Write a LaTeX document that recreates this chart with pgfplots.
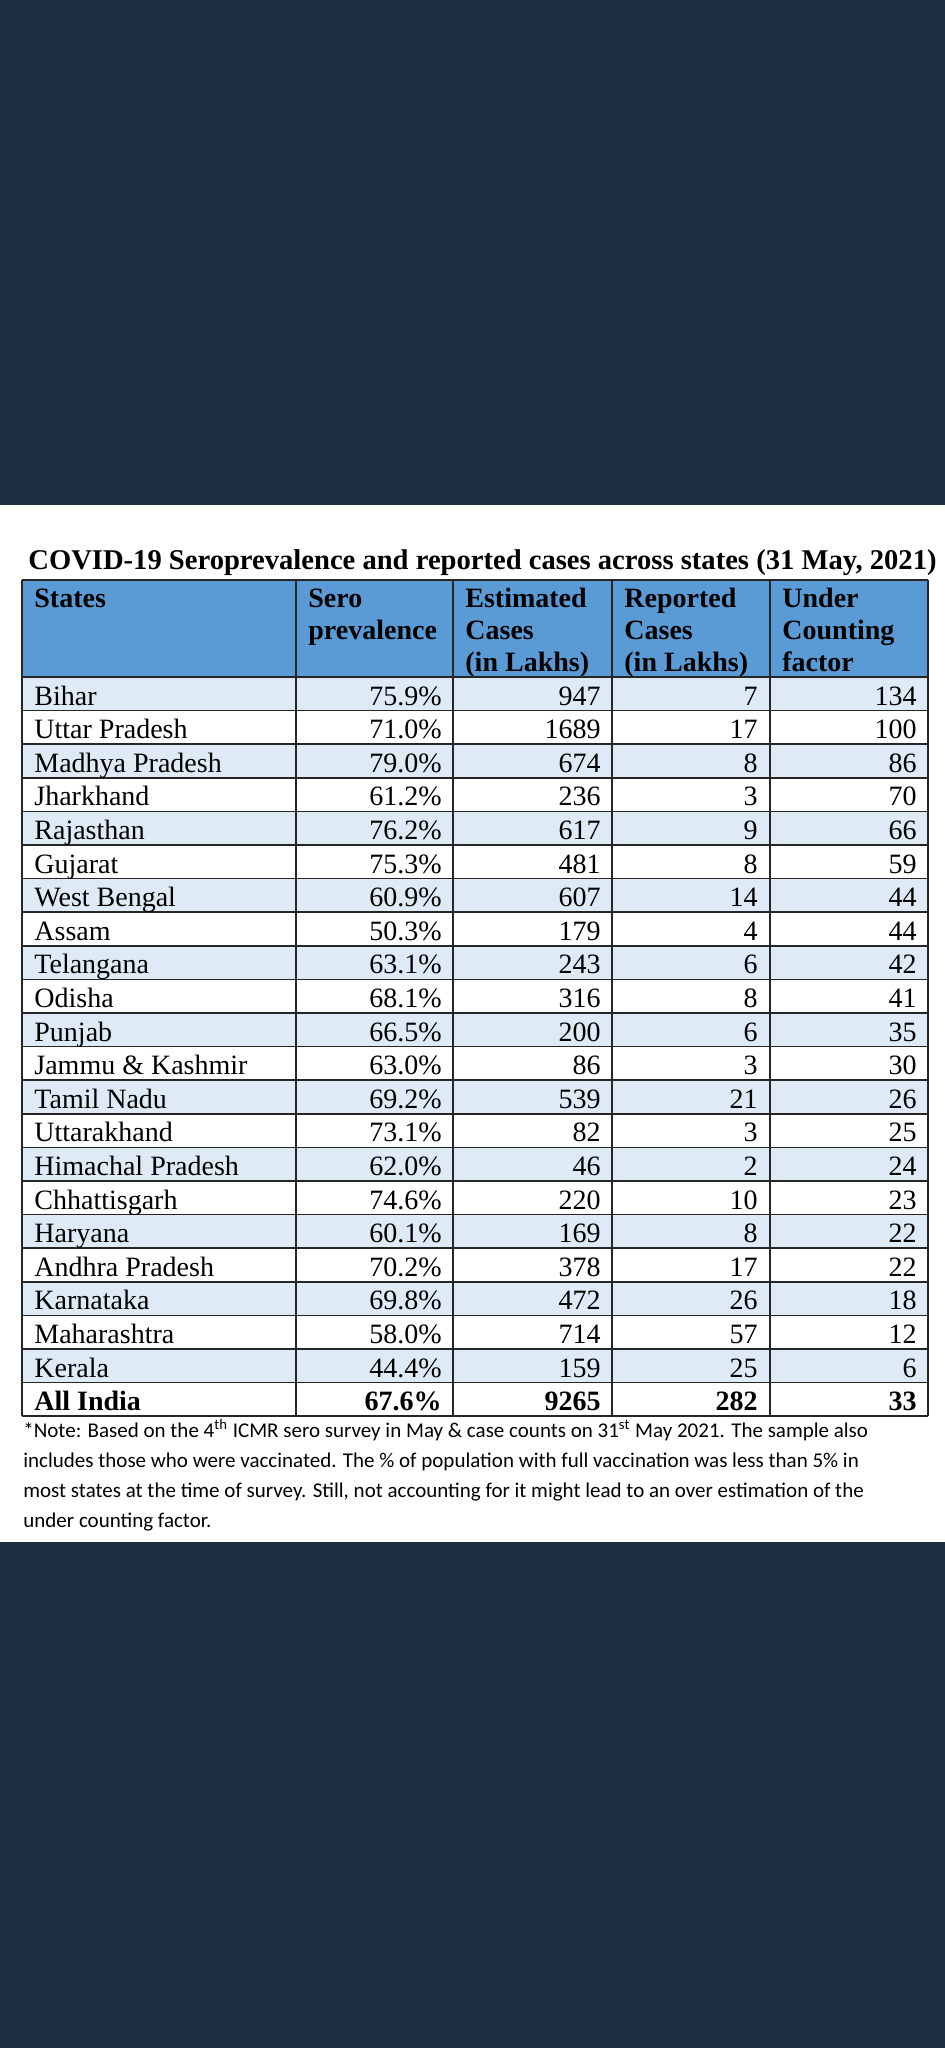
\documentclass[border=0pt]{standalone}
\usepackage{pgfplots}
\pgfplotsset{compat=1.18}
\usepackage{pgfplotstable}
\usepackage{fontspec}
\setmainfont{Liberation Serif}
\newfontfamily\notefont{Carlito}
\definecolor{bgdark}{HTML}{1E2D40}
\definecolor{hdrblue}{HTML}{5B9BD5}
\definecolor{rowblue}{HTML}{DEEAF6}
\definecolor{gridc}{HTML}{262626}

\pgfplotstableread[col sep=comma]{
row,state,sero,est,rep,ucf
0,Bihar,75.9,947,7,134
1,Uttar Pradesh,71.0,1689,17,100
2,Madhya Pradesh,79.0,674,8,86
3,Jharkhand,61.2,236,3,70
4,Rajasthan,76.2,617,9,66
5,Gujarat,75.3,481,8,59
6,West Bengal,60.9,607,14,44
7,Assam,50.3,179,4,44
8,Telangana,63.1,243,6,42
9,Odisha,68.1,316,8,41
10,Punjab,66.5,200,6,35
11,Jammu \& Kashmir,63.0,86,3,30
12,Tamil Nadu,69.2,539,21,26
13,Uttarakhand,73.1,82,3,25
14,Himachal Pradesh,62.0,46,2,24
15,Chhattisgarh,74.6,220,10,23
16,Haryana,60.1,169,8,22
17,Andhra Pradesh,70.2,378,17,22
18,Karnataka,69.8,472,26,18
19,Maharashtra,58.0,714,57,12
20,Kerala,44.4,159,25,6
}\statetable

\pgfplotstableread[col sep=comma]{
row,state,sero,est,rep,ucf
21,All India,67.6,9265,282,33
}\totaltable

\pgfplotsset{
  celltext/.style={draw=none, mark=none, point meta=explicit symbolic,
    nodes near coords,
    every node near coord/.style={anchor=base east, inner sep=0pt, text=black,
      font=\fontsize{14}{16}\selectfont}},
  cellleft/.style={celltext, every node near coord/.append style={anchor=base west}},
  cellbold/.style={every node near coord/.append style={font=\bfseries\fontsize{14}{16}\selectfont}},
}

\begin{document}
\begin{tikzpicture}
\begin{axis}[
  width=472.5pt, height=1024pt, scale only axis,
  xmin=0, xmax=945, ymin=0, ymax=2048, y dir=reverse,
  axis lines=none, clip=false,
]
% backgrounds
\fill[bgdark] (axis cs:0,0) rectangle (axis cs:945,2048);
\fill[white] (axis cs:0,505) rectangle (axis cs:945,1542);
\fill[hdrblue] (axis cs:22,580) rectangle (axis cs:928,677);
\pgfplotsinvokeforeach{0,2,...,20}{
  \fill[rowblue] (axis cs:22,{677+33.6*#1}) rectangle (axis cs:928,{677+33.6*(#1+1)});
}
% title
\node[anchor=base west, inner sep=0pt, font=\bfseries\fontsize{14.3}{16}\selectfont]
  at (axis cs:28,569) {COVID-19 Seroprevalence and reported cases across states (31 May, 2021)};
% header
\begin{scope}[every node/.style={anchor=base west, inner sep=0pt, font=\bfseries\fontsize{14}{16}\selectfont}]
\node at (axis cs:34,607) {States};
\node at (axis cs:308,607) {Sero};
\node at (axis cs:308,639) {prevalence};
\node at (axis cs:465,607) {Estimated};
\node at (axis cs:465,639) {Cases};
\node at (axis cs:465,671) {(in Lakhs)};
\node at (axis cs:624,607) {Reported};
\node at (axis cs:624,639) {Cases};
\node at (axis cs:624,671) {(in Lakhs)};
\node at (axis cs:782,607) {Under};
\node at (axis cs:782,639) {Counting};
\node at (axis cs:782,671) {factor};
\end{scope}
% body
\addplot[cellleft] table[x expr=34, y expr={705+33.6*\thisrow{row}}, meta=state]{\statetable};
\addplot[celltext, nodes near coords={\pgfplotspointmeta\%}] table[x expr=442, y expr={705+33.6*\thisrow{row}}, meta=sero]{\statetable};
\addplot[celltext] table[x expr=601, y expr={705+33.6*\thisrow{row}}, meta=est]{\statetable};
\addplot[celltext] table[x expr=758, y expr={705+33.6*\thisrow{row}}, meta=rep]{\statetable};
\addplot[celltext] table[x expr=917, y expr={705+33.6*\thisrow{row}}, meta=ucf]{\statetable};
% total row
\addplot[cellleft, cellbold] table[x expr=34, y expr={705+33.6*\thisrow{row}}, meta=state]{\totaltable};
\addplot[celltext, cellbold, nodes near coords={\pgfplotspointmeta\%}] table[x expr=442, y expr={705+33.6*\thisrow{row}}, meta=sero]{\totaltable};
\addplot[celltext, cellbold] table[x expr=601, y expr={705+33.6*\thisrow{row}}, meta=est]{\totaltable};
\addplot[celltext, cellbold] table[x expr=758, y expr={705+33.6*\thisrow{row}}, meta=rep]{\totaltable};
\addplot[celltext, cellbold] table[x expr=917, y expr={705+33.6*\thisrow{row}}, meta=ucf]{\totaltable};
% grid lines
\draw[gridc, line width=0.8pt] (axis cs:22,580) -- (axis cs:928,580);
\pgfplotsinvokeforeach{0,...,22}{
  \draw[gridc, line width=0.8pt] (axis cs:22,{677+33.6*#1}) -- (axis cs:928,{677+33.6*#1});
}
\pgfplotsinvokeforeach{22,296,453,612,770,928}{
  \draw[gridc, line width=0.8pt] (axis cs:#1,580) -- (axis cs:#1,1416.2);
}
% note
\begin{scope}[every node/.style={anchor=base west, inner sep=0pt, font=\notefont\fontsize{10.5}{12}\selectfont}]
\node at (axis cs:23,1437) {*Note: Based on the 4\textsuperscript{th} ICMR sero survey in May \& case counts on 31\textsuperscript{st} May 2021. The sample also};
\node at (axis cs:23,1467) {includes those who were vaccinated. The \% of population with full vaccination was less than 5\% in};
\node at (axis cs:23,1497) {most states at the time of survey. Still, not accounting for it might lead to an over estimation of the};
\node at (axis cs:23,1527) {under counting factor.};
\end{scope}
\end{axis}
\end{tikzpicture}
\end{document}
